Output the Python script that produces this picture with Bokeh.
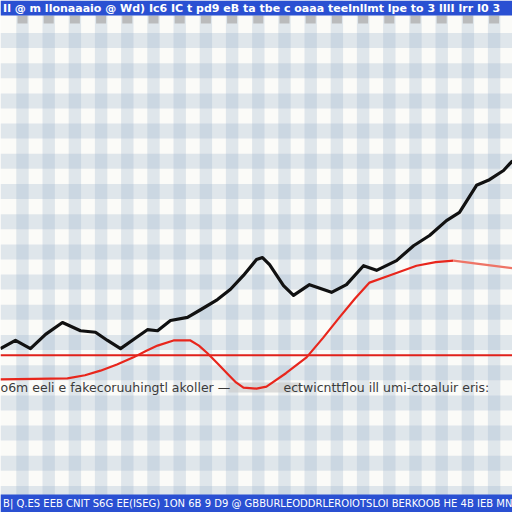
import numpy as np
from bokeh.plotting import figure
from bokeh.models import Range1d
from bokeh.core.properties import value
from bokeh.embed import file_html
from bokeh.resources import INLINE

# ---- data ----
black_x = [0.0, 1.17, 2.34, 3.52, 4.84, 6.25, 7.42, 8.36, 9.38, 10.39, 11.48, 12.27, 13.28,
           14.61, 15.63, 16.95, 17.97, 18.98, 20.0, 20.47, 21.02, 22.11, 22.89, 24.14, 25.86,
           27.03, 28.36, 29.38, 30.94, 32.27, 33.52, 34.84, 35.86, 37.19, 38.2, 39.3, 40.0]
black_y = [32.0, 33.6, 32.0, 34.8, 37.1, 35.5, 35.2, 33.6, 32.0, 33.8, 35.7, 35.5, 37.5,
           38.1, 39.6, 41.6, 43.6, 46.3, 49.4, 49.8, 48.4, 44.3, 42.4, 44.5, 43.0,
           44.5, 48.2, 47.3, 49.2, 52.1, 54.1, 57.0, 58.6, 63.9, 65.0, 66.8, 68.7]

red_x = [0.0, 5.23, 6.6, 7.81, 9.1, 10.39, 11.4, 12.27, 13.52, 14.84, 15.5, 16.17, 17.0,
         17.73, 18.4, 18.98, 20.0, 20.78, 22.3, 23.91, 25.2, 26.48, 27.7, 28.83, 30.39,
         32.5, 34.0, 35.39]
red_y = [26.0, 26.2, 26.8, 27.7, 28.9, 30.3, 31.6, 32.6, 33.6, 33.6, 32.6, 31.1, 29.0,
         27.1, 25.4, 24.4, 24.2, 24.6, 27.2, 30.3, 34.1, 38.1, 41.8, 44.9, 46.3,
         48.2, 48.9, 49.2]
red_tail_x = [35.39, 37.19, 40.0]
red_tail_y = [49.2, 48.6, 47.7]

ref_level = 30.7

label_left = "o6m eeli e fakecoruuhingtl akoller —"
label_right = "ectwicnttflou ill umi-ctoaluir eris:"
label_y = 24.4
top_text = "Il @ m llonaaaio @ Wd) Ic6 IC t pd9 eB ta tbe c oaaa teelnllmt lpe to 3 lIlI lrr I0 3"
bot_text = "B| Q.ES EEB CNIT S6G EE(ISEG) 1ON 6B 9 D9 @ GBBURLEODDRLEROIOTSLOI BERKOOB HE 4B IEB MN"

# ---- figure ----
SX, SY = 12.8, 5.12   # image px per data unit
p = figure(width=512, height=512, output_backend="svg", toolbar_location=None,
           x_range=Range1d(0, 40), y_range=Range1d(0, 100),
           min_border=0, background_fill_color="#fbfbf8", border_fill_color="#fbfbf8")
p.axis.visible = False
p.grid.visible = False
p.outline_line_color = None

# gingham background pattern
vc = (22 + 26.2 * np.arange(21)) / SX
hw = 6.2 / SX
p.quad(left=vc - hw, right=vc + hw, bottom=0, top=100,
       fill_color="#9fb5ce", fill_alpha=0.3, line_color=None)
hc = (512 - (40 + 30.2 * np.arange(17))) / SY
hh = 7.5 / SY
p.quad(left=0, right=40, bottom=hc - hh, top=hc + hh,
       fill_color="#9fb5ce", fill_alpha=0.3, line_color=None)

# small grey tick boxes under the top band
tb = vc[:19]
p.quad(left=tb - 5 / SX, right=tb + 5 / SX, bottom=(512 - 23) / SY, top=(512 - 15) / SY,
       fill_color="#b0b0b0", fill_alpha=0.8, line_color=None)

# faint grey smudge in the label row
p.quad(left=[228 / SX], right=[300 / SX], bottom=[(512 - 392) / SY], top=[(512 - 382) / SY],
       fill_color="#c8c8c8", fill_alpha=0.6, line_color=None)

# blue bands
p.quad(left=0, right=40, bottom=(512 - 15) / SY, top=100, fill_color="#2a50d2", line_color=None)
p.quad(left=0, right=40, bottom=0, top=(512 - 494) / SY, fill_color="#2a50d2", line_color=None)
p.text(x=[0.2], y=[(512 - 7.5) / SY], text=[top_text], text_color="white",
       text_font=value("DejaVu Sans"), text_font_size="11px", text_font_style="bold",
       text_baseline="middle", text_align="left")
p.text(x=[0.2], y=[(512 - 503) / SY], text=[bot_text], text_color="white",
       text_font=value("DejaVu Sans"), text_font_size="10px",
       text_baseline="middle", text_align="left")

# reference level
p.line(x=[0, 40], y=[ref_level, ref_level], line_color="#e0201a", line_width=2)

# red curve
p.line(x=red_x, y=red_y, line_color="#e8261c", line_width=2.2, line_join="round")
p.line(x=red_tail_x, y=red_tail_y, line_color="#ee7466", line_width=2.2, line_join="round")

# text row
p.text(x=[0.0], y=[label_y], text=[label_left], text_color="#3a3a3a",
       text_font=value("DejaVu Sans"), text_font_size="12.5px",
       text_baseline="middle", text_align="left")
p.text(x=[283 / SX], y=[label_y], text=[label_right], text_color="#3a3a3a",
       text_font=value("DejaVu Sans"), text_font_size="12.5px",
       text_baseline="middle", text_align="left")

# black series
p.line(x=black_x, y=black_y, line_color="#111111", line_width=3.2, line_join="round")

open("out.html", "w").write(file_html(p, INLINE))
